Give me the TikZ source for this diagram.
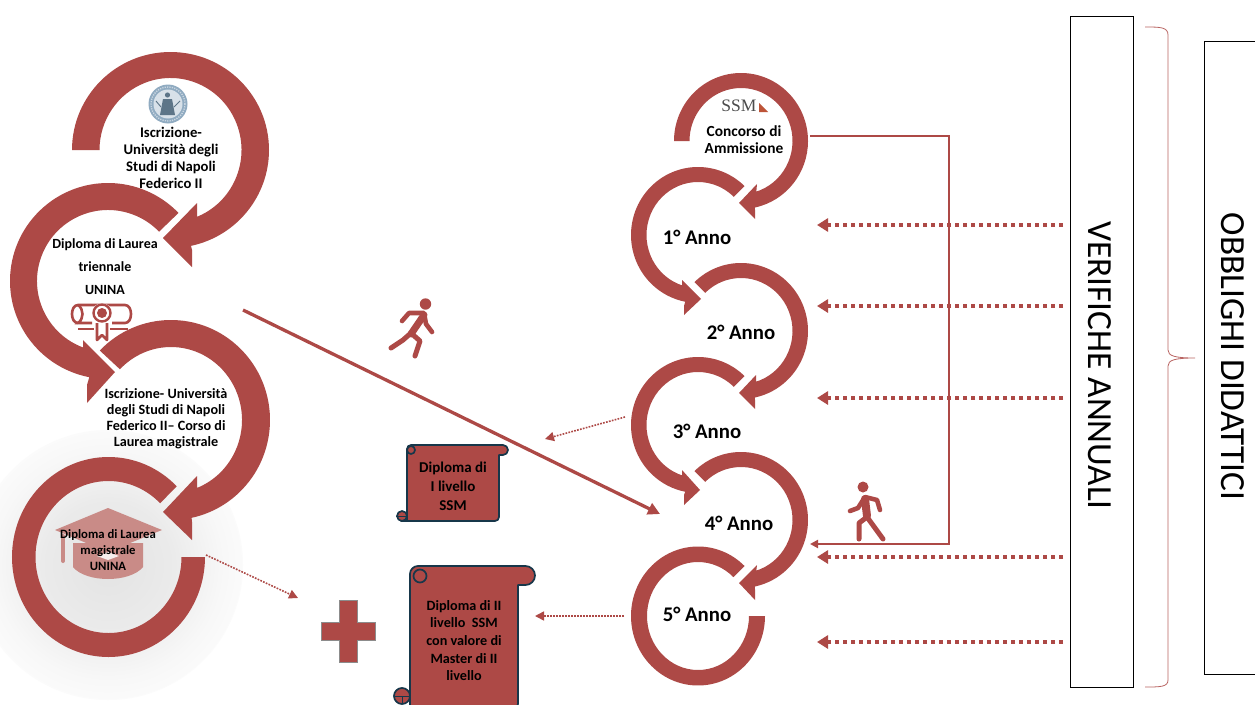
\documentclass[tikz,border=0pt]{standalone}
\usepackage{fontspec}
\setmainfont{Carlito}
\newfontfamily\serifssm{Liberation Serif}
\usetikzlibrary{calc,arrows.meta}
\definecolor{ringred}{HTML}{AD4946}
\definecolor{scrollblue}{HTML}{17374A}
\definecolor{capred}{HTML}{C98B87}
\definecolor{seal}{HTML}{7C9CB6}
\pgfdeclareradialshading{glowring}{\pgfpoint{0bp}{0bp}}{color(0bp)=(black!11); color(12bp)=(black!8); color(21bp)=(black!3); color(27bp)=(black!1); color(33bp)=(white); color(100bp)=(white)}
\newcommand{\setradii}[4]{\def\RX{#1}\def\RY{#2}\def\ROX{#3}\def\ROY{#4}}
\newcommand{\ringarrow}[6]{\fill[ringred] (#1,-#2) ++(#3:\RX pt and \RY pt) arc[start angle=#3,end angle=#4,x radius=\RX pt,y radius=\RY pt] -- #6 -- ($(#1,-#2)+(#5:\ROX pt and \ROY pt)$) arc[start angle=#5,end angle=#3,x radius=\ROX pt,y radius=\ROY pt] -- cycle;}
\newcommand{\scrollshape}[7]{\draw[scrollst] (#1,-#6) -- (#1,-#4-#7) arc[start angle=180,end angle=90,radius=#7 pt] -- ({#3-(#5-#4)/2},-#4) arc[start angle=90,end angle=-90,radius={(#5-#4)/2*1pt}] -- (#2,-#5) -- (#2,-#6+4) arc[start angle=0,end angle=-90,radius=4pt] -- (#1-6,-#6) -- cycle;}
\tikzset{
  lab/.style={font=\bfseries\fontsize{14.7}{17}\selectfont,align=center,text=black,inner sep=0pt},
  yearlab/.style={font=\bfseries\fontsize{20.8}{24}\selectfont,inner sep=0pt,text=black},
  bigdots/.style={ringred,line width=4pt,dash pattern=on 4.3pt off 3.7pt,-{Triangle[length=11pt,width=13pt]}},
  smalldots/.style={ringred,line width=1.6pt,dash pattern=on 1.7pt off 1.3pt,-{Triangle[length=9pt,width=9pt]}},
  solidarrow/.style={ringred,line width=2pt,-{Triangle[length=8pt,width=8pt]}},
  scrollst/.style={draw=scrollblue,fill=ringred,line width=1.7pt,line join=round},
  figure/.style={ringred,line width=5pt,line cap=round,line join=round},
  tallbox/.style={draw=black,line width=0.8pt},
  vertlab/.style={font=\fontsize{35.3}{38}\selectfont,rotate=-90,inner sep=0pt,text=black},
}
\begin{document}
\begin{tikzpicture}[x=1pt,y=1pt]
\useasboundingbox (0,0) rectangle (1255,-704);
\fill[white] (0,0) rectangle (1255,-704);
% glow
\shade[shading=glowring] (108,-565) circle (135pt);
% left rings
\setradii{98.5}{98}{71}{72}
\ringarrow{170.5}{150}{180}{-78}{-69}{(192,-250) -- (192,-267) -- (163,-238) -- (197,-203) -- (197,-219)}
\setradii{98}{98}{71}{71}
\ringarrow{108}{281}{44}{259}{250}{(87,-385) -- (87,-403) -- (115,-372) -- (83,-340) -- (83,-353)}
\setradii{99}{100}{71}{73}
\ringarrow{171}{420}{136}{-78}{-69}{(192,-522) -- (192,-540) -- (163,-512) -- (197,-476) -- (197,-491)}
\setradii{96.5}{100}{73}{76}
\ringarrow{108.5}{557}{45}{360}{360}{(205,-557)}
% right rings
\setradii{67}{68}{51.5}{53}
\ringarrow{741}{141}{180}{-78}{-74}{(755,-210) -- (755,-219) -- (739,-203) -- (757,-184) -- (756,-195)}
\ringarrow{698}{235}{46}{259}{253}{(684,-306) -- (684,-315) -- (701,-299) -- (682,-280) -- (682,-288)}
\ringarrow{741}{331}{134}{-78}{-74}{(755,-400) -- (755,-409) -- (739,-393) -- (756,-375) -- (756,-383)}
\ringarrow{698}{425}{46}{259}{253}{(684,-495) -- (684,-505) -- (700,-490) -- (682,-470) -- (682,-478)}
\ringarrow{741}{520}{134}{-78}{-74}{(755,-590) -- (755,-600) -- (739,-583) -- (757,-565) -- (756,-573)}
\setradii{67}{69.5}{51}{54}
\ringarrow{698}{616}{46}{360}{360}{(765,-616)}
% seal
\fill[seal!85!white] (168,-104) circle (19.5pt);
\draw[white!60!seal,line width=1.4pt,dash pattern=on 1.2pt off 1.2pt] (168,-104) circle (17pt);
\fill[white!70!seal] (168,-104) circle (14.5pt);
\fill[seal!75!black] (167.5,-95) circle (2.6pt);
\fill[seal!75!black] (163,-99) -- (172,-99) -- (175,-115) -- (160,-115) -- cycle;
\draw[seal!75!black,line width=0.9pt] (156,-101) -- (161,-107) (174,-107) -- (180,-101);
% diploma icon
\draw[ringred,line width=2.6pt,line join=round] (78,-323) .. controls (70,-323) and (70,-305) .. (78,-305) -- (125,-305) .. controls (133,-305) and (133,-323) .. (125,-323) -- (112,-323);
\draw[ringred,line width=2.6pt] (78,-305) .. controls (84,-309) and (84,-319) .. (78,-323) -- (92,-323);
\draw[ringred,line width=2.2pt] (78,-329) -- (94,-329) (110,-329) -- (128,-329);
\fill[white] (102,-313) circle (10pt);
\draw[ringred,line width=2.4pt] (102,-313) circle (8.5pt);
\fill[ringred] (102,-313) circle (5pt);
\draw[ringred,line width=2.6pt,line join=round] (97,-323) -- (97,-340) -- (102,-335) -- (107,-340) -- (107,-323);
% cap
\draw[capred,line width=4pt,line cap=round] (63,-536) -- (63,-561);
\fill[capred] (73,-543) -- (143,-543) -- (143,-567) .. controls (130,-583) and (86,-583) .. (73,-567) -- cycle;
\fill[capred] (55,-530) -- (108,-508) -- (162,-530) -- (108,-552) -- cycle;
\fill[white!85!capred] (97,-556) -- (108,-552) -- (119,-556) -- (108,-560) -- cycle;
% SSM logo
\node[inner sep=0pt,text=black!70,font=\serifssm\fontsize{17.5}{18}\selectfont] (ssmlogo) at (739,-106) {SSM};
\fill[ringred!80!orange] (759,-103) -- (759,-112) -- (768,-112) -- cycle;
% labels
\node[lab] (t1) at (171,-158) {Iscrizione-\\Università degli\\Studi di Napoli\\Federico II};
\node[lab,font=\bfseries\fontsize{14}{23}\selectfont] (t2) at (105,-267) {Diploma di Laurea\\triennale\\UNINA};
\node[lab,font=\bfseries\fontsize{14.2}{16}\selectfont] (t3) at (166,-419) {Iscrizione- Università\\degli Studi di Napoli\\Federico II– Corso di\\Laurea magistrale};
\node[lab,font=\bfseries\fontsize{12.7}{16}\selectfont] (t4) at (108,-550) {Diploma di Laurea\\magistrale\\UNINA};
\node[lab,font=\bfseries\fontsize{15.4}{17}\selectfont] (c0) at (744,-140) {Concorso di\\Ammissione};
\node[yearlab] (y1) at (697,-237) {1° Anno};
\node[yearlab] (y2) at (741,-332) {2° Anno};
\node[yearlab] (y3) at (707,-431) {3° Anno};
\node[yearlab] (y4) at (739,-523) {4° Anno};
\node[yearlab] (y5) at (697,-614) {5° Anno};
% scrolls
\scrollshape{407}{499}{508}{445}{455}{521}{4}
\draw[scrollst,fill=ringred] (411,-450) circle (4pt);
\draw[scrollst] (402,-516) circle (5pt);
\draw[scrollst,line width=1pt] (396,-516) -- (407,-516);
\node[lab,font=\bfseries\fontsize{15}{19}\selectfont] (d1) at (453,-486) {Diploma di\\I livello\\SSM};
\scrollshape{410}{518}{535}{566}{585}{708}{8}
\draw[scrollst] (420,-576) circle (6.5pt);
\draw[scrollst] (402,-696) circle (8pt);
\draw[scrollst,line width=1pt] (394,-696) -- (410,-696) (402,-696) -- (402,-704);
\node[lab,font=\fontsize{14.2}{17.7}\selectfont\bfseries] (d2) at (464,-640.5) {Diploma di II\\livello\ \ SSM\\con valore di\\Master di II\\livello};
% plus
\draw[fill=ringred,draw=black!45,line width=0.8pt] (339,-600) -- (357,-600) -- (357,-622) -- (375,-622) -- (375,-640) -- (357,-640) -- (357,-662) -- (339,-662) -- (339,-640) -- (321,-640) -- (321,-622) -- (339,-622) -- cycle;
% runner
\fill[ringred] (425.5,-304) circle (5.7pt);
\draw[figure,line width=4.6pt] (402,-321) -- (409,-313) -- (424,-313) -- (426,-324) -- (432,-332);
\draw[figure,line width=7pt] (424,-315) -- (411,-334);
\draw[figure,line width=5pt] (391,-348) -- (403,-340) -- (411,-333) -- (420,-341) -- (415,-356);
% walker
\fill[ringred] (863,-487) circle (5.5pt);
\draw[figure,line width=4.6pt] (850,-511) -- (858,-508) -- (865,-497) -- (877,-500) -- (880,-510);
\draw[figure,line width=8pt] (865,-499) -- (867,-516);
\draw[figure,line width=5pt] (859,-539) -- (859,-523) -- (867,-517) -- (883,-539);
% boxes
\node[tallbox,minimum width=63pt,minimum height=671pt,anchor=north west,inner sep=0pt] (ver) at (1070,-16) {};
\node[vertlab] (vertxt) at (1100,-365.5) {VERIFICHE ANNUALI};
\draw[tallbox] (1255,-41) -- (1204,-41) -- (1204,-674) -- (1255,-674);
\node[vertlab] (obbtxt) at (1233,-356.5) {OBBLIGHI DIDATTICI};
% brace
\draw[ringred!85!white,line width=0.8pt] (1145,-27) .. controls (1160,-27) and (1168,-27) .. (1168,-35) -- (1168,-350) .. controls (1168,-356) and (1175,-358) .. (1195,-358) .. controls (1175,-358) and (1168,-360) .. (1168,-366) -- (1168,-680) .. controls (1168,-687) and (1160,-687) .. (1145,-687);
% connector ends
\coordinate (a1) at (817,-225); \coordinate (b1) at (1063,-225);
\coordinate (a2) at (817,-306); \coordinate (b2) at (1063,-306);
\coordinate (a3) at (817,-398); \coordinate (b3) at (1063,-398);
\coordinate (a4) at (817,-557); \coordinate (b4) at (1063,-557);
\coordinate (a5) at (817,-642); \coordinate (b5) at (1063,-642);
\foreach \k in {1,...,5} {\draw[bigdots] (b\k) -- (a\k);}
\coordinate (s0) at (810,-136); \coordinate (s1) at (949,-136); \coordinate (s2) at (949,-544); \coordinate (s3) at (810,-544);
\draw[solidarrow] (s0) -- (s1) -- (s2) -- (s3);
\coordinate (lg0) at (243,-310); \coordinate (lg1) at (660,-514);
\draw[ringred,line width=3.3pt,-{Triangle[length=12pt,width=12pt]}] (lg0) -- (lg1);
\coordinate (p0) at (625,-417); \coordinate (p1) at (545,-439);
\draw[smalldots] (p0) -- (p1);
\coordinate (q0) at (624,-616); \coordinate (q1) at (535,-616);
\draw[smalldots] (q0) -- (q1);
\coordinate (r0) at (206,-555); \coordinate (r1) at (298,-598);
\draw[smalldots] (r0) -- (r1);
\end{tikzpicture}
\end{document}
